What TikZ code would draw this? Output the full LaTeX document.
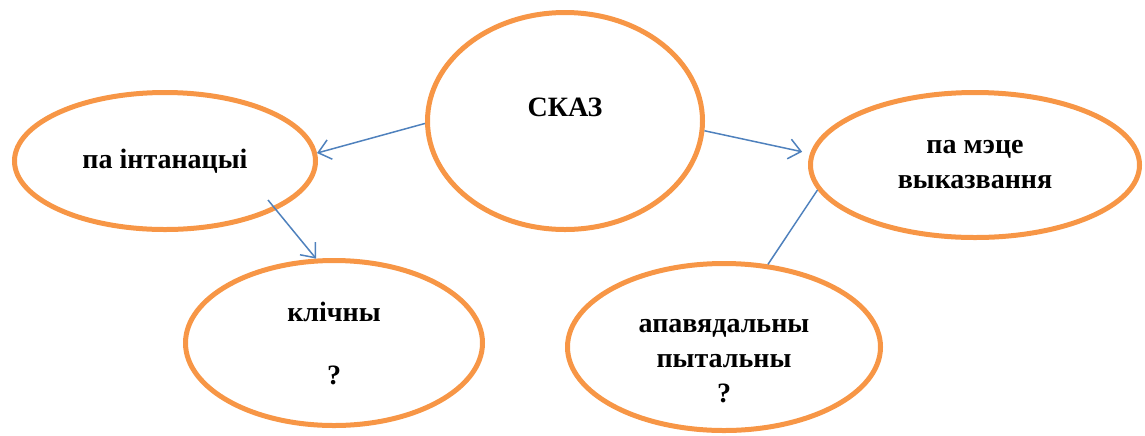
\documentclass[tikz,border=0pt]{standalone}
\usepackage{fontspec}
\setmainfont{Liberation Serif}
\usetikzlibrary{arrows.meta,shapes.geometric}
\usepackage{xcolor}
\definecolor{ovalorange}{RGB}{247,150,70}
\definecolor{linkblue}{RGB}{79,129,189}

\begin{document}
\begin{tikzpicture}[x=0.5pt,y=-0.5pt,
      oval node/.style={ellipse,draw=ovalorange,line width=2.5pt,align=center,
          inner sep=0pt,font=\fontsize{14}{17.5}\selectfont\bfseries},
      link/.style={color=linkblue,line width=0.75pt}]
    \useasboundingbox (0,0) rectangle (1145,435);

    \node[oval node,minimum width=137.5pt,minimum height=108.5pt] (skaz) at (565,121) {СКАЗ\\[-9pt]\strut};
    \node[oval node,minimum width=150.5pt,minimum height=68.5pt] (pai) at (165,161) {па інтанацыі};
    \node[oval node,minimum width=164.5pt,minimum height=72.5pt] (pmv) at (975,165) {па мэце\\выказвання};
    \node[oval node,minimum width=148.5pt,minimum height=82.5pt] (kl) at (334,343) {клічны\\[14pt]?};
    \node[oval node,minimum width=156.5pt,minimum height=83.5pt] (ap) at (724,347) {\strut\\[-9pt]апавядальны\\пытальны\\?};
    \coordinate (kstart) at (268,200);

    \path[link,->,>={Straight Barb[length=6pt,width=10pt]}]
    (skaz.181) edge (pai.3)
    (skaz.-4) edge [shorten >=4pt] (pmv.176)
    (kstart) edge (kl.102)
    (pmv.189) edge [-] (ap.62)
    ;

  \end{tikzpicture}
\end{document}
